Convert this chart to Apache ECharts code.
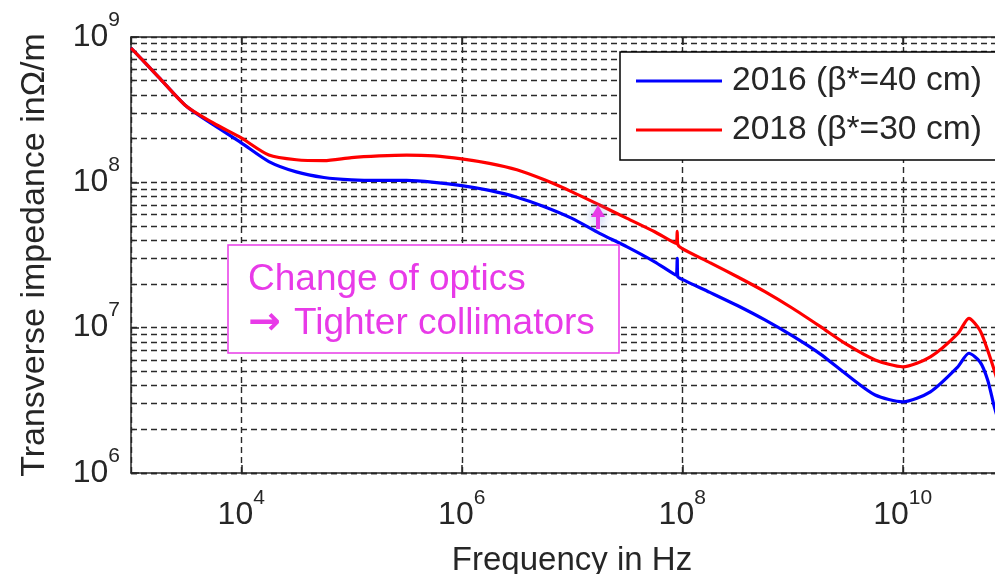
<!DOCTYPE html>
<html>
<head>
<meta charset="utf-8">
<script src="https://cdn.jsdelivr.net/npm/echarts@6/dist/echarts.min.js"></script>
<style>
  html, body { margin: 0; padding: 0; background: #ffffff; }
  #chart { width: 995px; height: 574px; }
</style>
</head>
<body>
<div id="chart"></div>
<script>
// Frequency samples (Hz) shared by both impedance curves
const frequencyHz = [
  1e3, 1.78e3, 3.16e3, 5.62e3,
  1e4, 1.78e4, 3.16e4, 5.62e4,
  1e5, 1.78e5, 3.16e5, 5.62e5,
  1e6, 1.78e6, 3.16e6, 5.62e6,
  1e7, 1.78e7, 3.16e7, 5.62e7,
  8.8e7, 9.0e7, 9.1e7,
  1e8, 1.78e8, 3.16e8, 5.62e8,
  1e9, 1.78e9, 3.16e9, 5.62e9,
  1e10, 1.78e10, 3.16e10, 3.98e10, 5.01e10, 5.89e10, 6.76e10, 7.94e10
];

// Transverse impedance (Ohm/m), 2016 optics
const impedance2016 = [
  8.4e8, 5.3e8, 3.35e8, 2.48e8,
  1.87e8, 1.39e8, 1.18e8, 1.08e8,
  1.04e8, 1.03e8, 1.03e8, 1.0e8,
  9.5e7, 8.8e7, 7.9e7, 6.8e7,
  5.65e7, 4.46e7, 3.6e7, 2.84e7,
  2.3e7, 3.0e7, 2.25e7,
  2.15e7, 1.75e7, 1.42e7, 1.13e7,
  8.77e6, 6.6e6, 4.7e6, 3.44e6,
  3.09e6, 3.62e6, 5.38e6, 6.67e6, 5.83e6, 4.37e6, 2.86e6, 1.9e6
];

// Transverse impedance (Ohm/m), 2018 optics
const impedance2018 = [
  8.4e8, 5.3e8, 3.35e8, 2.55e8,
  2.02e8, 1.54e8, 1.43e8, 1.41e8,
  1.48e8, 1.52e8, 1.54e8, 1.52e8,
  1.45e8, 1.35e8, 1.22e8, 1.04e8,
  8.6e7, 6.98e7, 5.65e7, 4.57e7,
  3.8e7, 4.6e7, 3.75e7,
  3.5e7, 2.8e7, 2.24e7, 1.77e7,
  1.36e7, 1.02e7, 7.6e6, 6.0e6,
  5.38e6, 6.3e6, 9.1e6, 1.16e7, 9.6e6, 7.0e6, 5.1e6, 3.4e6
];

const seriesNames = ['2016 (\u03b2*=40 cm)', '2018 (\u03b2*=30 cm)'];
const seriesColors = ['#0000ff', '#ff0000'];

// Decade exponents that carry a tick label
const xTickExponents = [4, 6, 8, 10];
const yTickExponents = [6, 7, 8, 9];

const FONT = '"Liberation Sans", Arial, sans-serif';
const INK = '#262626';
const MAGENTA = '#e83ae8';
const GRID_DASH = { color: '#2a2a2a', width: 1.4, type: [6, 4] };

const chart = echarts.init(document.getElementById('chart'), null, { renderer: 'canvas' });

// "10" with a raised exponent
const powerRich = {
  b: { fontSize: 32, fontFamily: FONT, color: INK, lineHeight: 63 },
  e: { fontSize: 21, fontFamily: FONT, color: INK, verticalAlign: 'top', padding: [4, 0, 0, 0] }
};

const option = {
  backgroundColor: '#ffffff',
  animation: false,
  textStyle: { fontFamily: FONT },
  grid: { left: 131, top: 37, width: 882, height: 436, containLabel: false, outerBoundsMode: 'none' },
  legend: {
    orient: 'vertical',
    left: 620,
    top: 52,
    padding: [10, 48, 11, 16],
    itemGap: 11,
    itemWidth: 86,
    itemHeight: 3,
    icon: 'rect',
    backgroundColor: '#ffffff',
    borderColor: '#000000',
    borderWidth: 1.5,
    borderRadius: 0,
    z: 20,
    textStyle: { fontSize: 33.6, fontFamily: FONT, color: INK, lineHeight: 38, padding: [0, 0, 0, 5] },
    data: seriesNames
  },
  xAxis: [
    {
      // log scale carrying the data
      type: 'log',
      logBase: 10,
      min: 1e3,
      max: 1e11,
      position: 'bottom',
      show: false
    },
    {
      // decade exponent axis for ticks, labels and vertical grid
      type: 'value',
      min: 3,
      max: 11,
      splitNumber: 4,
      position: 'bottom',
      axisLine: { show: true, lineStyle: { color: INK, width: 1.5 } },
      axisTick: { show: true, inside: true, length: 8, lineStyle: { color: INK, width: 1.5 } },
      splitLine: { show: true, lineStyle: GRID_DASH },
      axisLabel: {
        margin: 11,
        showMinLabel: false,
        showMaxLabel: false,
        formatter: v => xTickExponents.includes(v) ? '{b|10}{e|' + v + '}' : '',
        rich: powerRich
      },
      name: 'Frequency in Hz',
      nameLocation: 'middle',
      nameGap: 71,
      nameTextStyle: { fontSize: 33, fontFamily: FONT, color: INK }
    },
    {
      type: 'value',
      min: 3,
      max: 11,
      splitNumber: 4,
      position: 'top',
      axisLine: { show: true, lineStyle: { color: INK, width: 1.5 } },
      axisTick: { show: true, inside: true, length: 8, lineStyle: { color: INK, width: 1.5 } },
      splitLine: { show: false },
      axisLabel: { show: false }
    }
  ],
  yAxis: {
    type: 'log',
    logBase: 10,
    min: 1e6,
    max: 1e9,
    axisLine: { show: true, lineStyle: { color: INK, width: 1.5 } },
    axisTick: { show: true, inside: true, length: 8, lineStyle: { color: INK, width: 1.5 } },
    minorTick: { show: true, splitNumber: 9, length: 4, lineStyle: { color: INK, width: 1.2 } },
    splitLine: { show: true, lineStyle: GRID_DASH },
    minorSplitLine: { show: true, lineStyle: GRID_DASH },
    axisLabel: {
      margin: 11,
      formatter: v => {
        const p = Math.round(Math.log10(v));
        return yTickExponents.includes(p) ? '{b|10}{e|' + p + '}' : '';
      },
      rich: powerRich
    },
    name: 'Transverse impedance in\u03a9/m',
    nameLocation: 'middle',
    nameGap: 79,
    nameTextStyle: { fontSize: 34, fontFamily: FONT, color: INK }
  },
  series: [
    {
      name: seriesNames[0],
      type: 'line',
      xAxisIndex: 0,
      showSymbol: false,
      symbol: 'none',
      smooth: 0.25,
      color: seriesColors[0],
      lineStyle: { width: 3.2, color: seriesColors[0] },
      data: frequencyHz.map((f, i) => [f, impedance2016[i]]),
      z: 5
    },
    {
      name: seriesNames[1],
      type: 'line',
      xAxisIndex: 0,
      showSymbol: false,
      symbol: 'none',
      smooth: 0.25,
      color: seriesColors[1],
      lineStyle: { width: 3.2, color: seriesColors[1] },
      data: frequencyHz.map((f, i) => [f, impedance2018[i]]),
      z: 6
    }
  ],
  graphic: [
    {
      type: 'rect',
      z: 30,
      shape: { x: 228, y: 245, width: 391, height: 108 },
      style: { fill: '#ffffff', stroke: MAGENTA, lineWidth: 1.5 }
    },
    {
      type: 'text',
      z: 31,
      x: 248,
      y: 258,
      style: {
        text: 'Change of optics\n{a|\u2192} Tighter collimators',
        font: '37px ' + FONT,
        fill: MAGENTA,
        lineHeight: 44,
        rich: {
          a: { fontFamily: '"DejaVu Sans"', fontSize: 39, fontWeight: 'bold', fill: MAGENTA, lineHeight: 44, padding: [0, 3, 0, 0] }
        }
      }
    },
    {
      type: 'polygon',
      z: 31,
      shape: { points: [[598, 205], [605, 217], [600, 217], [600, 229], [596, 229], [596, 217], [591, 217]] },
      style: { fill: MAGENTA, shadowBlur: 12, shadowColor: 'rgba(120,150,230,0.75)' }
    }
  ]
};

chart.setOption(option);
</script>
</body>
</html>
